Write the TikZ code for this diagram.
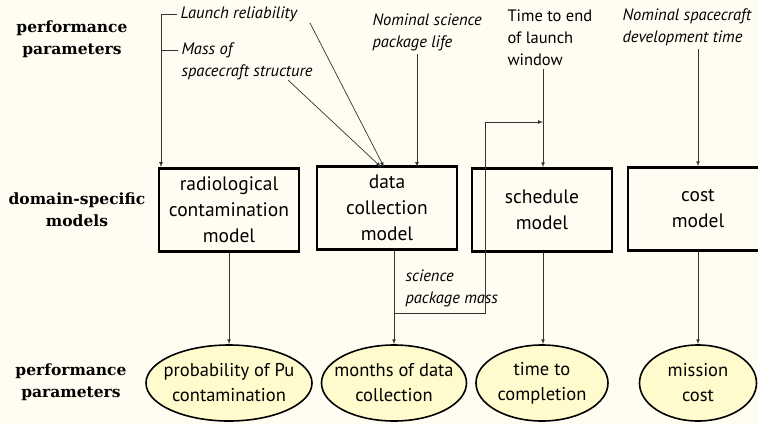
\documentclass[tikz,border=0pt]{standalone}
\usepackage{fontspec}
\setmainfont{PT Sans}
\newfontfamily\headfont{DejaVu Serif}
\usetikzlibrary{shapes.geometric}
\definecolor{paper}{RGB}{255,253,241}
\definecolor{bubble}{RGB}{255,251,204}
\tikzset{
    level/.style={font=\headfont\bfseries\fontsize{15.5}{22}\selectfont, align=center},
    model/.style={draw=black, line width=2.6pt, minimum width=140pt, minimum height=83pt,
        align=center, font=\fontsize{19.5}{26}\selectfont},
    output/.style={draw=black, line width=1.6pt, ellipse, fill=bubble, inner xsep=-40pt,
        inner ysep=-20pt, minimum height=76pt, align=center, font=\fontsize{18.5}{25}\selectfont},
    param/.style={align=left, anchor=west, font=\itshape\fontsize{16.5}{22}\selectfont},
    flow/.style={draw=black!80, line width=0.7pt},
    >=latex
}

\begin{document}
\begin{tikzpicture}[x=1pt, y=-1pt]
    \useasboundingbox[fill=paper] (0,0) rectangle (758,424);

    \node[level] (topLbl) at (72,39) {performance\\parameters};
    \node[level] (midLbl) at (77,210) {domain-specific\\models};
    \node[level] (botLbl) at (71,382) {performance\\parameters};

    \node[model] (radModel) at (229,210) {radiological\\contamination\\model};
    \node[model] (dataModel) at (387,208) {data\\collection\\model};
    \node[model] (schedModel) at (542,210) {schedule\\model};
    \node[model] (costModel) at (698,209) {cost\\model};

    \node[output, minimum width=166pt] (probPu) at (229,383) {probability of Pu\\contamination};
    \node[output, minimum width=145pt] (months) at (394,383) {months of data\\collection};
    \node[output, minimum width=132pt] (timeDone) at (542,383) {time to\\completion};
    \node[output, minimum width=117pt] (missCost) at (698,383) {mission\\cost};

    \node[param] (launchRel) at (177,14) {Launch reliability};
    \node[param] (scMass) at (178,61) {Mass of\\spacecraft structure};
    \node[param] (sciLife) at (369,32) {Nominal science\\package life};
    \node[param, font=\fontsize{16.5}{22}\selectfont] (launchWin) at (504,38) {Time to end\\of launch\\window};
    \node[param] (devTime) at (619,27) {Nominal spacecraft\\development time};
    \node[param] (sciMass) at (402,288) {science\\package mass};

    \coordinate (radIn) at (161,167);
    \coordinate (dataInA) at (384,167);
    \coordinate (dataInB) at (381,167);
    \coordinate (dataInC) at (417,167);
    \coordinate (massTap) at (394,313);
    \coordinate (winTap) at (543,122);

    \draw[flow, ->] (launchRel.west) -| (radIn);
    \draw[flow] (scMass.west |- 0,50) -- (radIn |- 0,50);
    \draw[flow, ->] (310,23) -- (dataInA);
    \draw[flow, ->] (288,80) -- (dataInB);
    \draw[flow, ->] (sciLife.south -| dataInC) -- (dataInC);
    \draw[flow, ->] (launchWin.south -| winTap) -- (schedModel.north -| winTap);
    \draw[flow, ->] (devTime.south -| costModel.north) -- (costModel.north);

    \draw[flow, ->] (radModel.south) -- (probPu.north);
    \draw[flow, ->] (dataModel.south -| months.north) -- (months.north);
    \draw[flow, ->] (schedModel.south -| winTap) -- (timeDone.north -| winTap);
    \draw[flow, ->] (costModel.south -| missCost.north) -- (missCost.north);

    \draw[flow, ->] (massTap) -- (485,313) -- (485,122) -- (winTap);
\end{tikzpicture}
\end{document}
